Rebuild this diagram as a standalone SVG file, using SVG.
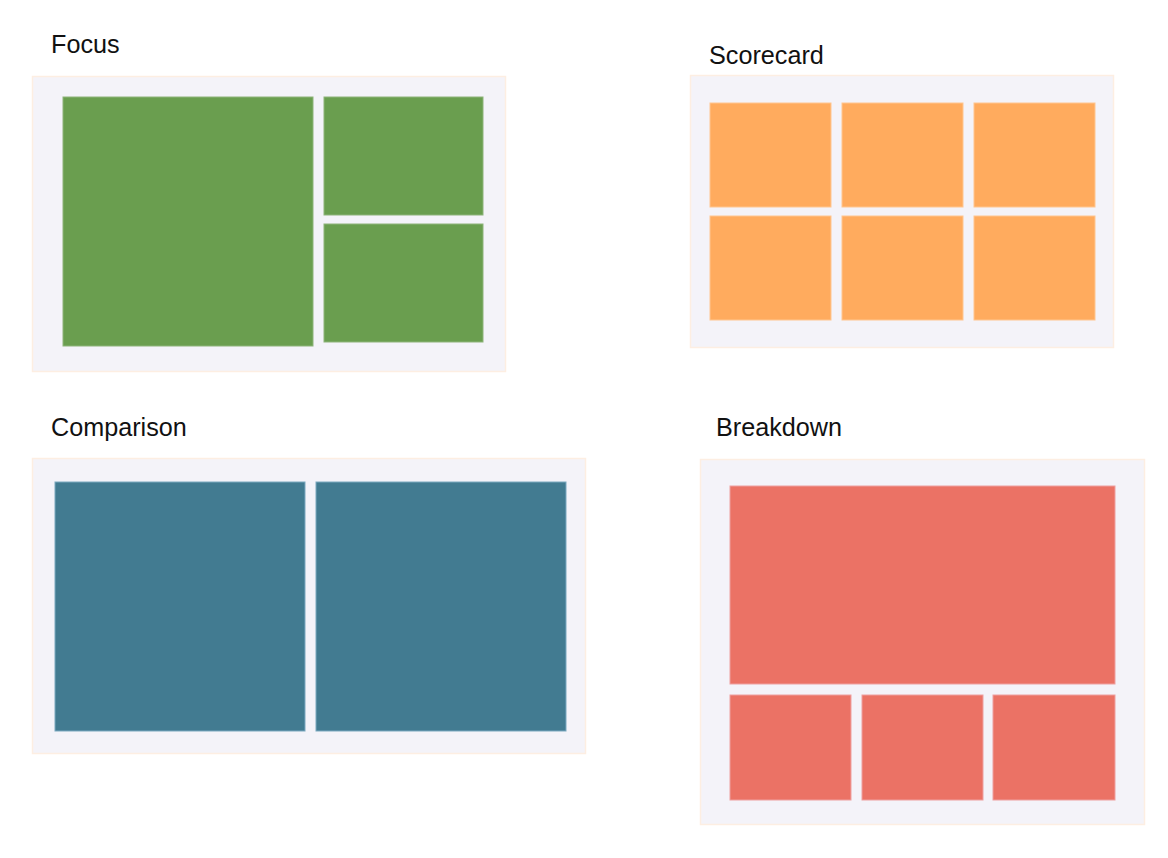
<svg xmlns="http://www.w3.org/2000/svg" width="1168" height="858" viewBox="0 0 1168 858">
<style>
.title{font-family:"Liberation Sans",Arial,sans-serif;font-size:25.2px;fill:#111}
.panel{fill:#f4f3f9;stroke:#fdeee2;stroke-width:1.5}
.g{fill:#6a9e4f;stroke:#8db47a;stroke-width:1}
.o{fill:#ffab5e;stroke:#ffc690;stroke-width:1}
.t{fill:#427b91;stroke:#7aa9c0;stroke-width:1}
.r{fill:#eb7265;stroke:#eea0a0;stroke-width:1}
</style>
<rect width="1168" height="858" fill="#ffffff"/>
<g id="focus">
<text class="title" x="51" y="53">Focus</text>
<rect class="panel" x="32.5" y="76.5" width="473" height="295"/>
<rect class="g" x="63" y="97" width="250" height="249"/>
<rect class="g" x="324" y="97" width="159" height="118"/>
<rect class="g" x="324" y="224" width="159" height="118"/>
</g>
<g id="scorecard">
<text class="title" x="709" y="63.5">Scorecard</text>
<rect class="panel" x="690.5" y="75.5" width="423" height="272"/>
<rect class="o" x="710" y="103" width="121" height="104"/>
<rect class="o" x="842" y="103" width="121" height="104"/>
<rect class="o" x="974" y="103" width="121" height="104"/>
<rect class="o" x="710" y="216" width="121" height="104"/>
<rect class="o" x="842" y="216" width="121" height="104"/>
<rect class="o" x="974" y="216" width="121" height="104"/>
</g>
<g id="comparison">
<text class="title" x="51" y="435.5">Comparison</text>
<rect class="panel" x="32.5" y="458.5" width="553" height="295"/>
<rect class="t" x="55" y="482" width="250" height="249"/>
<rect class="t" x="316" y="482" width="250" height="249"/>
</g>
<g id="breakdown">
<text class="title" x="716" y="436">Breakdown</text>
<rect class="panel" x="700.5" y="459.5" width="444" height="365"/>
<rect class="r" x="730" y="486" width="385" height="198"/>
<rect class="r" x="730" y="695" width="121" height="105"/>
<rect class="r" x="862" y="695" width="121" height="105"/>
<rect class="r" x="993" y="695" width="122" height="105"/>
</g>
<g id="connectors"/>
</svg>
